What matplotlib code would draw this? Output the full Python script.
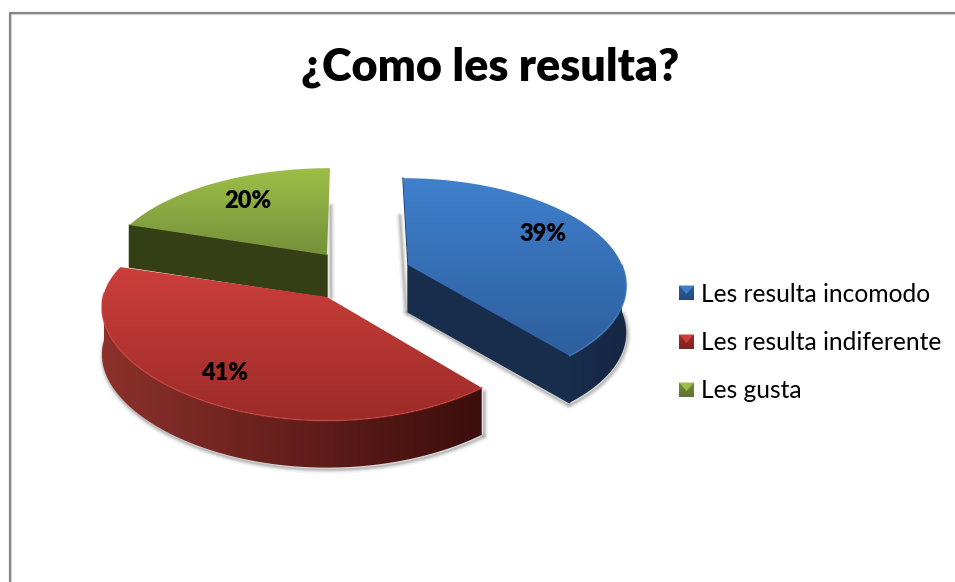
import numpy as np
import matplotlib
matplotlib.use('Agg')
import matplotlib.pyplot as plt
from matplotlib.colors import LinearSegmentedColormap
from matplotlib.patches import PathPatch, Polygon
from matplotlib.path import Path

TITLE = '¿Como les resulta?'
CATEGORIES = ['Les resulta incomodo', 'Les resulta indiferente', 'Les gusta']
VALUES = [39, 41, 20]

W, H = 955, 582
plt.rcParams['font.family'] = ['Lato', 'DejaVu Sans']

# look of each slice: apex in pixels, depth, lean of the back edge
APEX = [(408, 265), (327, 297), (327, 255)]
DEPTH = [47, 47, 42]
LEAN = [-5, 0, 3]
RADIUS = [214, 224, 220]
X_PERSP = [0.175, 0.1, 0.175]
LABEL_SHIFT = [(3, -8), (-6, 7), (-2, -3)]
TOP_COLORS = [('#3F7FCC', '#2E5F9E'), ('#CC3F3B', '#9C2B29'), ('#9DBE48', '#75913A')]
WALL_COLORS = [('#182C4C', '#142744'), ('#8C302B', '#3C0E0C'), ('#353F15', '#353F15')]
SWATCH_LOW = ['#234A7C', '#7E2422', '#5C7230']
BACK_Y = 102
PERSP = 0.175


def project(t, i, frac=1.0):
    # t in degrees, clockwise from 12 o'clock
    t = np.radians(t)
    v = np.cos(t)
    x = APEX[i][0] + frac * (RADIUS[i] * np.sin(t) / (1 + X_PERSP[i] * v) + LEAN[i] * v)
    y = APEX[i][1] - frac * (BACK_Y * v / (1 + PERSP * v))
    return np.column_stack([np.atleast_1d(x), np.atleast_1d(y)])


def gradient_poly(ax, pts, colors, horizontal=False, zorder=2):
    cmap = LinearSegmentedColormap.from_list('g', colors)
    x0, y0 = pts.min(axis=0)
    x1, y1 = pts.max(axis=0)
    grad = np.linspace(0, 1, 128)
    grad = grad.reshape(1, -1) if horizontal else grad.reshape(-1, 1)
    im = ax.imshow(grad, cmap=cmap, extent=(x0, x1, y1, y0), origin='upper',
                   aspect='auto', zorder=zorder, interpolation='bilinear')
    patch = PathPatch(Path(np.vstack([pts, pts[:1]])), fc='none', ec='none',
                      transform=ax.transData, zorder=zorder)
    ax.add_patch(patch)
    im.set_clip_path(patch)


def soft_shadow(ax, pts, zorder):
    # blurred grey line just outside a wall edge
    for lw, a in [(6, 0.04), (4, 0.06), (2.5, 0.08), (1.2, 0.10)]:
        ax.plot(pts[:, 0], pts[:, 1], color='black', lw=lw, alpha=a,
                zorder=zorder, solid_capstyle='round')


fig = plt.figure(figsize=(W / 100, H / 100), dpi=100)
ax = fig.add_axes([0, 0, 1, 1])
ax.axis('off')

# chart frame, runs off the right and bottom of the picture
ax.plot([11, 11, W], [H, 14, 14], color='#DDDDDD', lw=1, zorder=1)
ax.plot([9.5, 9.5, W], [H, 12.5, 12.5], color='#868686', lw=1.6, zorder=1)

ax.text(490, 67, TITLE, ha='center', va='center', fontsize=32.4, fontweight='heavy', color='black')

# slice angles come from the values
ends = np.cumsum(VALUES) / np.sum(VALUES) * 360
starts = np.concatenate([[0], ends[:-1]])

# back to front: green, red, blue
for i in [2, 1, 0]:
    t0, t1 = starts[i], ends[i]
    apex_pt = np.array([APEX[i]], dtype=float)
    arc = project(np.linspace(t0, t1, 120), i)
    top = np.vstack([apex_pt, arc])
    drop = np.array([0, DEPTH[i]])
    z = 3 + (2 - i) * 4

    # shadows first
    if i == 2:
        soft_shadow(ax, np.vstack([project(t1 - 1, i) + [4, 38], apex_pt + drop + [4, 0]]), z - 1)
    else:
        front = project(np.linspace(max(t0, 90), min(t1, 272), 120), i) + drop + [1, 2]
        soft_shadow(ax, front, z - 1)
    if i == 0:
        soft_shadow(ax, np.vstack([project(t0, i) + [-3, 38], apex_pt + drop + [-2, 0]]), z - 1)
        soft_shadow(ax, np.vstack([apex_pt + drop + [0, 2], arc[-1:] + drop + [-2, 2]]), z - 1)
    if i == 1:
        soft_shadow(ax, np.vstack([arc[0] + drop + [2, 0], arc[0] + [2, 4]]), z - 1)

    # outer curved wall on the side that faces the viewer
    if t0 < 272:
        w = project(np.linspace(max(t0, 90), min(t1, 272), 120), i)
        gradient_poly(ax, np.vstack([w, (w + drop)[::-1]]), WALL_COLORS[i], horizontal=True, zorder=z)

    # flat cut walls that face the viewer
    if i == 0:
        cut = np.vstack([apex_pt, arc[-1:], arc[-1:] + drop, apex_pt + drop])
        ax.fill(cut[:, 0], cut[:, 1], color=WALL_COLORS[i][0], zorder=z)
        ax.plot([arc[0, 0], apex_pt[0, 0]], [arc[0, 1], apex_pt[0, 1]], color=WALL_COLORS[i][0], lw=1, zorder=z)
    if i == 2:
        cut = np.vstack([arc[0:1], apex_pt, apex_pt + drop, arc[0:1] + drop])
        ax.fill(cut[:, 0], cut[:, 1], color=WALL_COLORS[i][0], zorder=z)

    # top face with vertical shading
    gradient_poly(ax, top, TOP_COLORS[i], zorder=z + 1)
    if t0 < 272:
        rim = project(np.linspace(max(t0, 90), min(t1, 272), 100), i)
        ax.plot(rim[:, 0], rim[:, 1], color=TOP_COLORS[i][0], alpha=0.6, lw=1.2, zorder=z + 2)

    # percent label sits inside the top face
    mid = project((t0 + t1) / 2, i, frac=0.7)[0] + LABEL_SHIFT[i]
    ax.text(mid[0], mid[1], f'{VALUES[i]}%', ha='center', va='center',
            fontsize=17, fontweight='heavy', color='black', zorder=20)

# legend
LEGEND_X = 679
LEGEND_Y = [293, 342, 390]
S = 15
for i, cat in enumerate(CATEGORIES):
    y = LEGEND_Y[i]
    sq = np.array([[LEGEND_X, y - S / 2], [LEGEND_X + S, y - S / 2], [LEGEND_X + S, y + S / 2], [LEGEND_X, y + S / 2]])
    gradient_poly(ax, sq, [TOP_COLORS[i][1], SWATCH_LOW[i]], zorder=10)
    ax.add_patch(Polygon([[LEGEND_X, y - S / 2], [LEGEND_X + S, y - S / 2], [LEGEND_X + S / 2, y + 1]],
                         fc=TOP_COLORS[i][0], ec='none', zorder=11))
    ax.text(701, y + 1, cat, ha='left', va='center', fontsize=17.7, color='black', zorder=12)

ax.set_xlim(0, W)
ax.set_ylim(H, 0)
fig.savefig('out.png', dpi=100)
